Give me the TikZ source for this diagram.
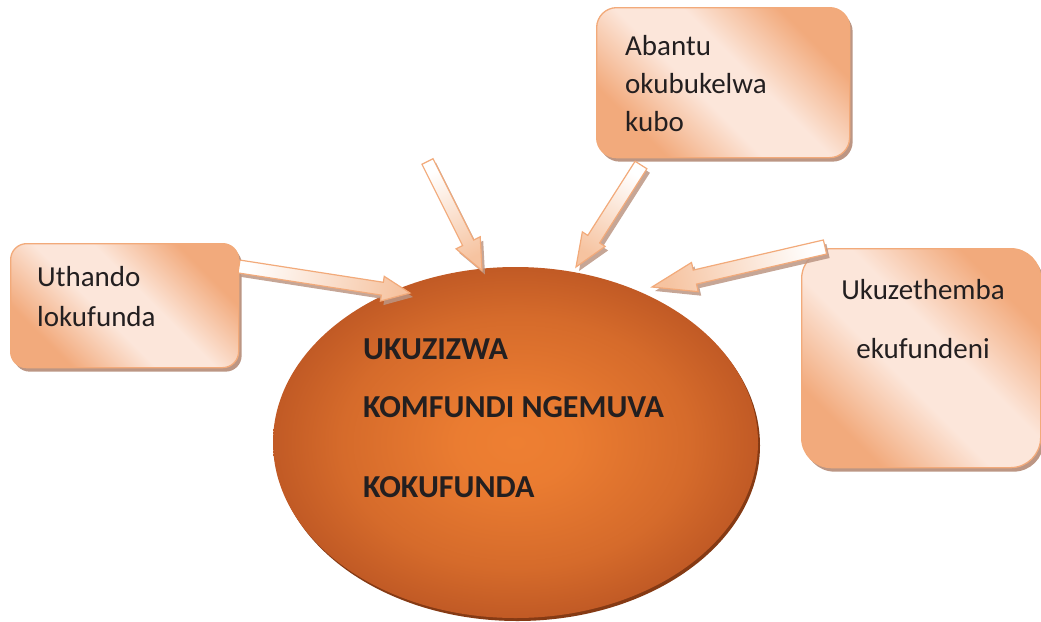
\documentclass[tikz,border=0pt]{standalone}
\usepackage{fontspec}
\setmainfont{Carlito}
\usetikzlibrary{calc,shadings,shadows,shapes.geometric}
\definecolor{boxor}{HTML}{F2AA7C}
\definecolor{boxlt}{HTML}{FCE6DA}
\definecolor{boxedge}{HTML}{F2AA7A}
\definecolor{shadowc}{HTML}{BC9684}
\definecolor{ellin}{HTML}{EE7F32}
\definecolor{ellout}{HTML}{C15A25}
\definecolor{ellshadow}{HTML}{853A14}
\definecolor{txt}{HTML}{231F20}
\definecolor{arrpeach}{HTML}{F6C3A0}
\pgfdeclareverticalshading{boxshade}{100bp}{color(0bp)=(boxor); color(27bp)=(boxor); color(44bp)=(boxlt); color(56bp)=(boxlt); color(73bp)=(boxor); color(100bp)=(boxor)}
\pgfdeclareradialshading{ellshade}{\pgfpoint{0bp}{0bp}}{color(0bp)=(ellin); color(6bp)=(ellin!92!ellout); color(18bp)=(ellin!45!ellout); color(25bp)=(ellout); color(50bp)=(ellout)}
\tikzset{
  infobox/.style={draw=boxedge, line width=1.3pt, shading=boxshade, shading angle=-45,
    drop shadow={shadow xshift=3pt, shadow yshift=-4pt, fill=shadowc, opacity=1}},
  plain/.style={inner sep=0pt, text=txt, font=\fontsize{29}{35}\selectfont},
  heavy/.style={inner sep=0pt, text=txt, font=\bfseries\fontsize{32}{38}\selectfont},
  arrowbody/.style={draw=boxedge, line width=1.2pt, line join=miter},
  arrowshadow/.style={fill=shadowc, opacity=0.85},
}
% #1 tail, #2 tip, #3 half shaft, #4 half head, #5 head length, #6 shading angle, #7 head-base name
\newcommand\blockarr[7]{%
  \coordinate (#7) at ($(#2)!#5!(#1)$);
  \fill[arrowshadow, transform canvas={shift={(3pt,-4pt)}}]
    ($(#1)!#3!90:(#2)$) -- ($(#7)!#3!-90:(#1)$) -- ($(#7)!#4!-90:(#1)$) -- (#2)
    -- ($(#7)!#4!90:(#1)$) -- ($(#7)!#3!90:(#1)$) -- ($(#1)!#3!-90:(#2)$) -- cycle;
  \draw[arrowbody, top color=white, bottom color=arrpeach, shading angle=#6]
    ($(#1)!#3!90:(#2)$) -- ($(#7)!#3!-90:(#1)$) -- ($(#7)!#4!-90:(#1)$) -- (#2)
    -- ($(#7)!#4!90:(#1)$) -- ($(#7)!#3!90:(#1)$) -- ($(#1)!#3!-90:(#2)$) -- cycle;
}
\begin{document}
\begin{tikzpicture}[x=1pt,y=-1pt]
\useasboundingbox (0,0) rectangle (1041,621);
% central ellipse
\node[ellipse, minimum width=485pt, minimum height=351pt, inner sep=0pt, shading=ellshade,
  drop shadow={shadow xshift=2pt, shadow yshift=-3pt, fill=ellshadow, opacity=1}] (core) at (515.5,442.5) {};
\node[heavy, anchor=base west] (c1) at (363,359) {UKUZIZWA};
\node[heavy, anchor=base west] (c2) at (363,417) {KOMFUNDI NGEMUVA};
\node[heavy, anchor=base west] (c3) at (363,497) {KOKUFUNDA};
% boxes
\node[infobox, rounded corners=16pt, minimum width=228pt, minimum height=124pt, anchor=north west] (b1) at (10,243) {};
\node[plain, anchor=base west] (t1a) at (37,286.5) {Uthando};
\node[plain, anchor=base west] (t1b) at (37,326.5) {lokufunda};
\node[infobox, rounded corners=20pt, minimum width=253pt, minimum height=150pt, anchor=north west] (b2) at (596,7) {};
\node[plain, anchor=base west] (t2a) at (625,55) {Abantu};
\node[plain, anchor=base west] (t2b) at (625,93) {okubukelwa};
\node[plain, anchor=base west] (t2c) at (625,131.5) {kubo};
\node[infobox, rounded corners=30pt, minimum width=239pt, minimum height=219pt, anchor=north west] (b3) at (801,248) {};
\node[plain, anchor=base] (t3a) at (923,299) {Ukuzethemba};
\node[plain, anchor=base] (t3b) at (923,358) {ekufundeni};
% arrow end points
\coordinate (a1s) at (239,266.5);
\coordinate (a1e) at (410,293);
\coordinate (a2s) at (427.5,161.5);
\coordinate (a2e) at (482,270.5);
\coordinate (a3s) at (641,165);
\coordinate (a3e) at (576,267);
\coordinate (a4s) at (825,247);
\coordinate (a4e) at (652,287);
\blockarr{a1s}{a1e}{6.5pt}{12.5pt}{28pt}{81}{a1h}
\blockarr{a2s}{a2e}{6.2pt}{13.5pt}{31pt}{27}{a2h}
\blockarr{a3s}{a3e}{7pt}{13.5pt}{33pt}{-31}{a3h}
\blockarr{a4s}{a4e}{7.2pt}{15pt}{44pt}{-76}{a4h}
\end{tikzpicture}
\end{document}
